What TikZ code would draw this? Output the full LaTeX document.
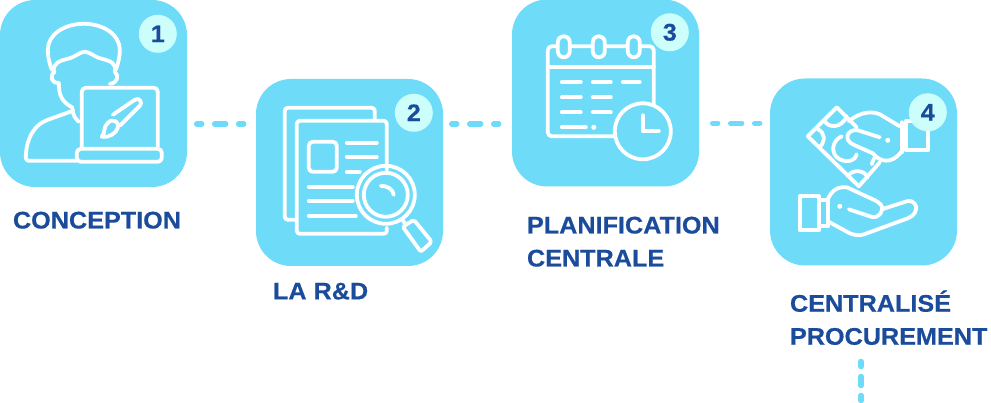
\documentclass[tikz,border=0pt]{standalone}
\usepackage{fontspec}
\newfontfamily\labelfont[FakeStretch=1.05, FakeBold=0.5]{Liberation Sans}
\usetikzlibrary{calc}
\definecolor{boxcyan}{HTML}{6EDCF9}
\definecolor{badgecyan}{HTML}{CCFFFB}
\definecolor{labelblue}{HTML}{1B4B9B}
\tikzset{
    my-box/.style={
        fill=boxcyan, shape=rectangle, rounded corners=35pt, minimum size=187pt, inner sep=0pt
    },
    my-badge/.style={
        fill=badgecyan, shape=circle, minimum size=38pt, inner sep=0pt, text=labelblue,
        font=\labelfont\bfseries\fontsize{24}{24}\selectfont
    },
    my-label/.style={
        anchor=west, align=left, inner sep=0pt, text=labelblue,
        font=\labelfont\bfseries\fontsize{24}{33}\selectfont
    },
    my-link/.style={
        draw=boxcyan, line width=5.5pt, line cap=round, dash pattern=on 11pt off 13pt, dash phase=6pt
    },
    my-drop/.style={
        draw=boxcyan, line width=5.5pt, line cap=round, dash pattern=on 9pt off 10pt, dash phase=4pt
    },
    my-icon/.style={
        draw=white, line width=3.8pt, line cap=round, line join=round
    },
    my-dot/.style={
        fill=white, shape=circle, minimum size=5pt, inner sep=0pt
    },
}

\begin{document}
\begin{tikzpicture}[x=1pt, y=-1pt]

        \useasboundingbox (0, 0) rectangle (991, 403);

        % BOXES
        \node[my-box] (BOX1) at (93.5, 93.5)   {};
        \node[my-box] (BOX2) at (349.5, 172.5) {};
        \node[my-box] (BOX3) at (605.5, 93)    {};
        \node[my-box] (BOX4) at (863.5, 172)   {};

        % DASHED LINKS
        \coordinate[] (LINK1A) at ($(BOX1.north east) + (9.5, 124)$);
        \coordinate[] (LINK1B) at ($(LINK1A) + (47, 0)$);
        \coordinate[] (LINK2A) at ($(BOX2.north east) + (8.5, 45)$);
        \coordinate[] (LINK2B) at ($(LINK2A) + (47, 0)$);
        \coordinate[] (LINK3A) at ($(BOX3.north east) + (13.5, 124)$);
        \coordinate[] (LINK3B) at ($(LINK3A) + (47, 0)$);
        \coordinate[] (LINK4A) at (861, 361.5);
        \coordinate[] (LINK4B) at ($(LINK4A) + (0, 39)$);
        \draw[my-link] (LINK1A) -- (LINK1B);
        \draw[my-link] (LINK2A) -- (LINK2B);
        \draw[my-link] (LINK3A) -- (LINK3B);
        \draw[my-drop] (LINK4A) -- (LINK4B);

        % ICON 1 - PERSON WITH LAPTOP
        \begin{scope}[shift={(BOX1.north west)}, my-icon]
            \draw (52, 70) .. controls (49, 62) and (48, 56) .. (48, 50) .. controls (48, 35) and (64, 24) .. (84, 24) .. controls (104, 24) and (120, 35) .. (120, 50) .. controls (120, 56) and (119, 62) .. (116, 70);
            \draw (54, 72) .. controls (53, 63) and (60, 61) .. (68, 59) .. controls (76, 57) and (80, 52) .. (85, 52) .. controls (90, 52) and (94, 57) .. (102, 59) .. controls (110, 61) and (117, 63) .. (115, 72);
            \draw (55, 72) .. controls (49, 76) and (52, 84) .. (59, 83);
            \draw (115, 72) .. controls (120, 76) and (117, 84) .. (110, 84);
            \draw (59, 83) .. controls (59, 96) and (62, 102) .. (73, 108);
            \draw (73, 110) .. controls (73, 116) and (76, 119) .. (79, 122);
            \draw[rounded corners=3pt] (73, 111) -- (48, 120) .. controls (34, 126) and (26, 140) .. (26, 161) -- (77, 161);
            \draw[rounded corners=4pt] (82, 147) -- (82, 88) -- (158, 88) -- (158, 147);
            \draw[rounded corners=4pt] (77, 149) -- (162, 149) -- (162, 162) -- (77, 162) -- cycle;
            \draw (113, 115) -- (135, 100) .. controls (140, 97) and (143, 103) .. (140, 106) -- (120, 126);
            \draw (108, 123) .. controls (113, 118) and (120, 122) .. (118, 128) .. controls (116, 134) and (109, 138) .. (102, 137) .. controls (106, 132) and (103, 128) .. (108, 123);
        \end{scope}

        % ICON 2 - DOCUMENTS WITH MAGNIFIER
        \begin{scope}[shift={(BOX2.north west)}, my-icon]
            \draw[rounded corners=3pt] (119, 41) -- (119, 29) -- (29, 29) -- (29, 141) -- (41, 141);
            \draw[rounded corners=3pt] (131, 91) -- (131, 42) -- (41, 42) -- (41, 155) -- (131, 155) -- (131, 149);
            \draw[rounded corners=4pt] (53, 63) rectangle (81, 93);
            \draw (91, 64) -- (121, 64);
            \draw (91, 78) -- (121, 78);
            \draw (91, 93) -- (104, 93);
            \draw (53, 108) -- (97, 108);
            \draw (53, 122) -- (97, 122);
            \draw (53, 137) -- (100, 137);
            \draw (130, 116) circle (29pt);
            \draw (130, 116) circle (22pt);
            \draw (125, 107) .. controls (131, 107) and (137, 110) .. (138, 116);
            \draw (146, 140) -- (150, 146);
            \draw[rounded corners=2pt] (147, 148) -- (158, 141) -- (176, 163) -- (165, 173) -- cycle;
        \end{scope}

        % ICON 3 - CALENDAR WITH CLOCK
        \begin{scope}[shift={(BOX3.north west)}, my-icon]
            \draw[rounded corners=4pt] (103, 137) -- (36, 137) -- (36, 47) -- (142, 47) -- (142, 105);
            \draw (36, 68) -- (142, 68);
            \foreach \ringx in {52, 87, 122} {
                \draw[fill=boxcyan, rounded corners=6pt] (\ringx - 6, 37) rectangle (\ringx + 6, 58);
            }
            \foreach \rowy in {83, 98, 113} {
                \draw (50, \rowy) -- (69, \rowy);
                \draw (81, \rowy) -- (99, \rowy);
            }
            \draw (111, 83) -- (128, 83);
            \draw (50, 128) -- (74, 128);
            \node[my-dot] (DOT3) at (82, 128) {};
            \draw (131, 132) circle (28pt);
            \draw (131, 116) -- (131, 132) -- (147, 132);
        \end{scope}

        % ICON 4 - HANDS WITH BANKNOTE
        \begin{scope}[shift={(BOX4.north west)}, my-icon]
            \draw (87, 49) -- (67, 29) -- (38, 58) -- (89, 108) -- (110, 84);
            \draw (55, 43) .. controls (59, 50) and (72, 50) .. (77, 38);
            \draw (48, 51) .. controls (55, 54) and (56, 62) .. (50, 69);
            \draw (78, 98) .. controls (82, 91) and (94, 91) .. (98, 99);
            \draw (102, 86) .. controls (103, 82) and (105, 79) .. (106, 78);
            \draw (72, 58) .. controls (62, 62) and (60, 76) .. (70, 81) .. controls (78, 85) and (86, 82) .. (87, 76);
            \draw (79, 43) .. controls (86, 37) and (98, 31) .. (110, 36) -- (130, 48);
            \draw (110, 59) -- (88, 52) .. controls (78, 50) and (72, 62) .. (85, 67) -- (103, 75) .. controls (110, 84) and (122, 86) .. (131, 74);
            \node[my-dot] (DOT4A) at (118, 62) {};
            \draw (132, 44) -- (132, 74);
            \draw (136, 43) -- (136, 72) -- (158, 72) -- (158, 43) -- cycle;
            \draw (30, 118) rectangle (49, 152);
            \draw (49, 122) -- (58, 122) -- (58, 148) -- (49, 148);
            \draw (58, 121) .. controls (62, 112) and (68, 108) .. (77, 109) -- (103, 121) .. controls (110, 124) and (114, 128) .. (112, 132) .. controls (110, 139) and (104, 140) .. (100, 138) -- (79, 131);
            \draw (112, 131) -- (137, 123) .. controls (144, 121) and (148, 128) .. (146, 132) .. controls (145, 136) and (142, 138) .. (138, 140) -- (97, 155) .. controls (90, 158) and (85, 157) .. (80, 155) -- (58, 143);
            \node[my-dot] (DOT4B) at (70, 128) {};
        \end{scope}

        % BADGES
        \node[my-badge] (BADGE1) at ($(BOX1.north west) + (158, 34)$) {1};
        \node[my-badge] (BADGE2) at ($(BOX2.north west) + (158, 34)$) {2};
        \node[my-badge] (BADGE3) at ($(BOX3.north west) + (158, 33)$) {3};
        \node[my-badge] (BADGE4) at ($(BOX4.north west) + (158, 34)$) {4};

        % LABELS
        \node[my-label] (LABEL1) at ($(BOX1.south west) + (13, 33)$)  {CONCEPTION};
        \node[my-label] (LABEL2) at ($(BOX2.south west) + (17, 25)$)  {LA R\&D};
        \node[my-label] (LABEL3) at ($(BOX3.south west) + (15, 55)$)  {PLANIFICATION\\CENTRALE};
        \node[my-label] (LABEL4) at ($(BOX4.south west) + (20, 52)$)  {CENTRALISÉ\\PROCUREMENT};

    \end{tikzpicture}
\end{document}
